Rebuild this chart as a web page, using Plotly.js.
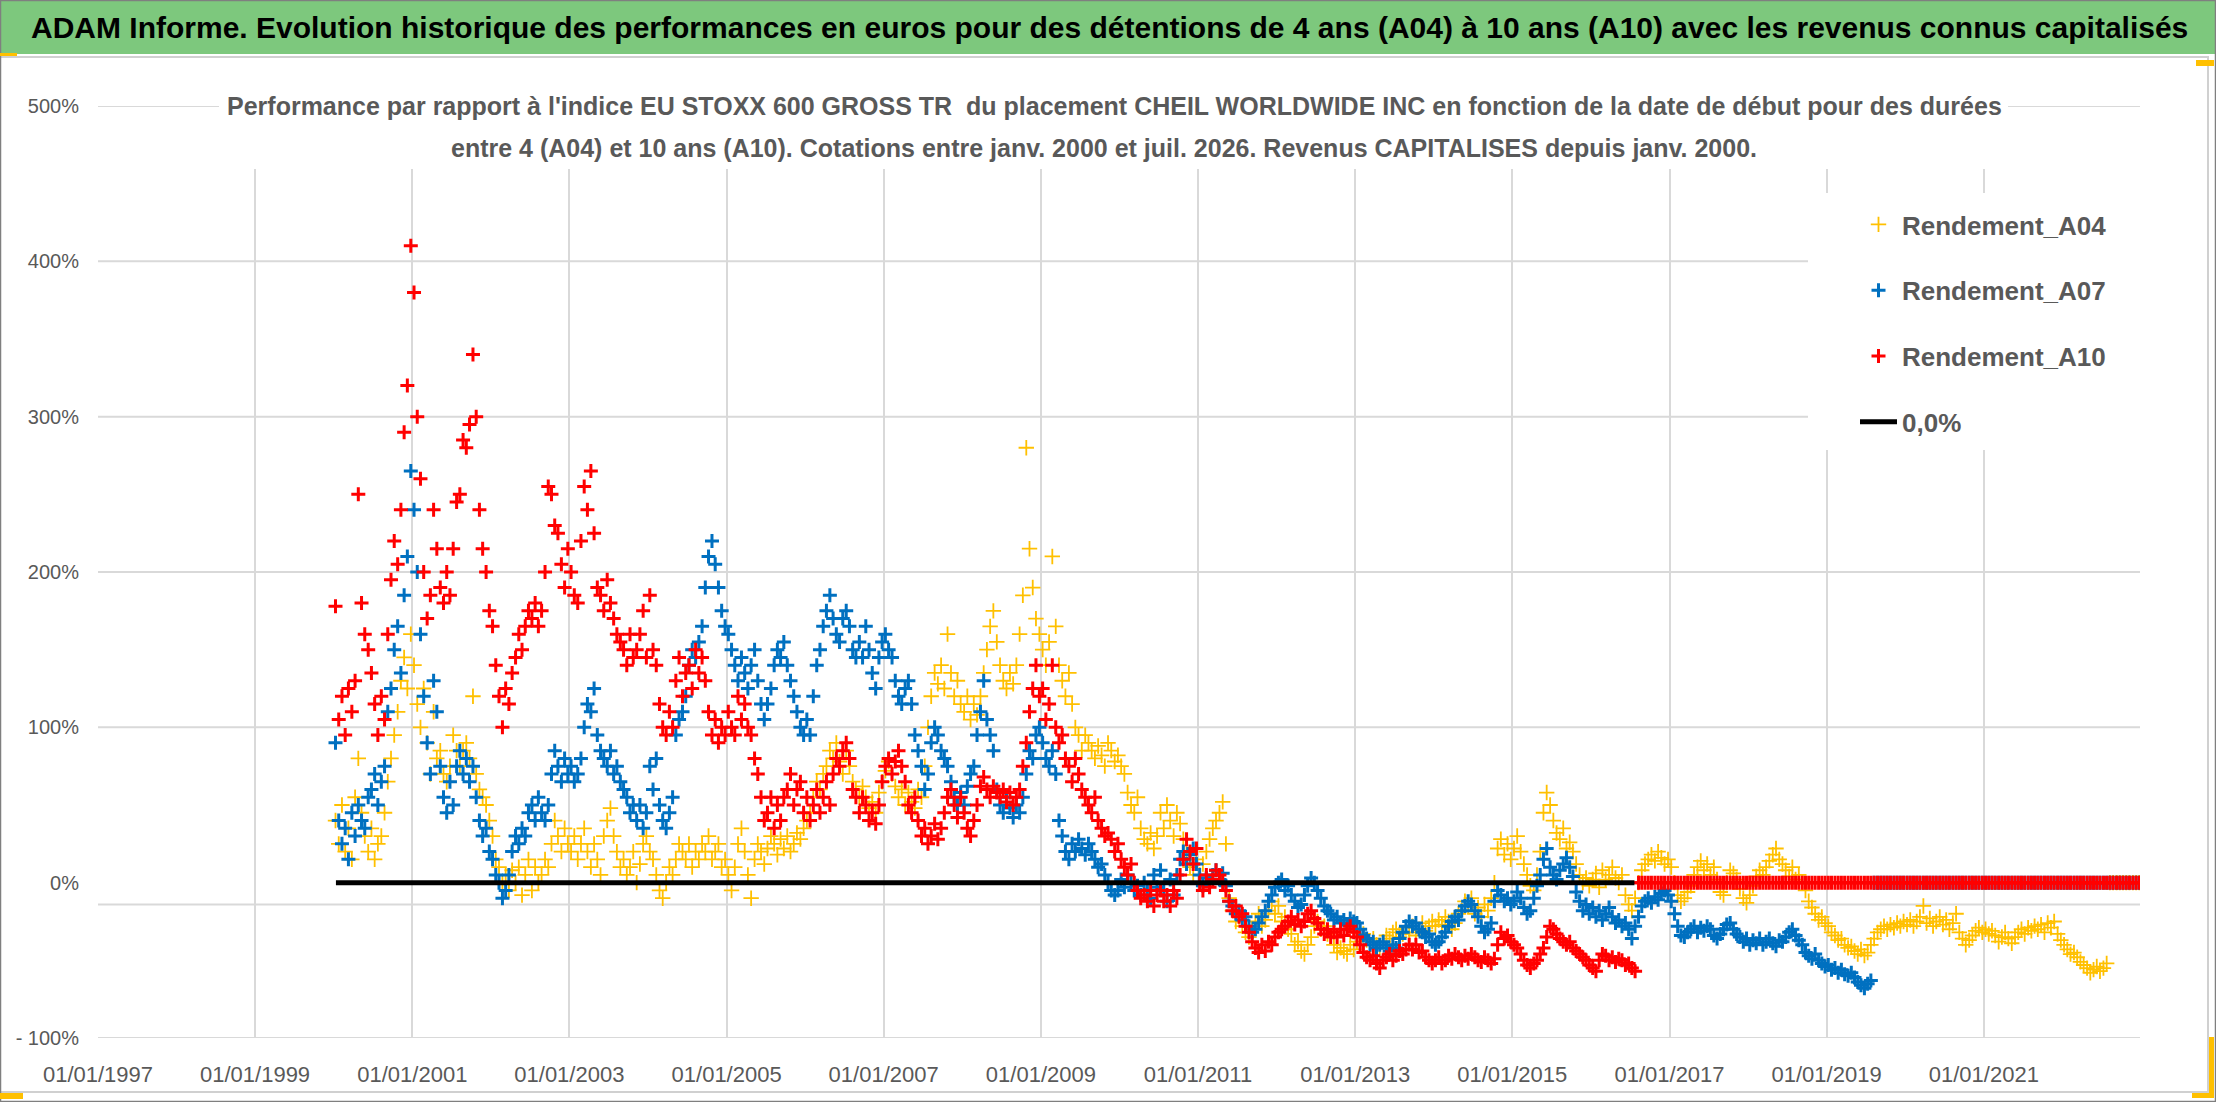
<!DOCTYPE html>
<html>
<head>
<meta charset="utf-8">
<script src="https://cdn.plot.ly/plotly-3.0.1.min.js"></script>
<style>
  html, body { margin: 0; padding: 0; background: #ffffff; }
  #chart { width: 2216px; height: 1102px; }
</style>
</head>
<body>
<div id="chart"></div>
<script>
// ---------------- DATA ----------------
// Start dates sampled every half month from mid-January 2000.
const seriesStartDate = '2000-01-10';
const stepDays = 15.2188;

const rendementA04 = [
  40,25,50,20,35,15,55,80,45,30,20,35,15,25,30,45,65,80,95,110,130,145,125,160,
  140,115,100,125,90,70,110,80,85,70,65,75,95,85,75,85,90,80,120,70,60,55,50,40,
  30,15,10,0,5,-5,8,0,10,-8,5,15,-5,10,0,5,15,10,25,40,30,20,35,25,
  20,30,15,25,35,20,10,25,15,5,30,40,48,30,20,10,15,5,10,20,0,12,25,30,
  20,15,5,-5,-10,0,10,5,15,25,20,15,25,10,20,15,25,20,30,15,20,25,10,15,
  5,-5,10,25,35,20,5,-10,15,25,20,12,22,30,25,18,28,22,30,20,25,32,28,35,
  40,45,55,65,60,70,75,85,80,90,78,70,85,75,65,60,55,62,55,48,52,45,58,65,
  72,78,70,62,55,60,50,58,52,48,60,55,75,100,120,135,128,140,125,160,135,120,130,115,
  110,120,105,115,108,120,135,150,165,175,155,140,130,125,135,128,140,160,185,280,215,190,170,160,
  150,140,155,210,165,140,130,120,135,115,100,95,85,95,90,85,80,88,82,75,90,85,78,82,
  75,70,58,50,45,55,35,28,25,32,22,30,45,35,50,40,30,45,38,28,20,10,5,15,
  5,12,20,28,35,40,45,52,25,-10,-18,-25,-22,-28,-32,-35,-30,-25,-20,-28,-24,-18,-12,-20,
  -15,-25,-22,-30,-33,-40,-38,-44,-46,-40,-35,-28,-25,-30,-28,-33,-35,-40,-45,-42,-44,-46,-40,-43,
  -38,-35,-33,-37,-40,-36,-40,-42,-38,-34,-36,-32,-30,-35,-33,-29,-32,-28,-34,-30,-26,-31,-28,-25,
  -28,-24,-27,-22,-25,-30,-26,-20,-18,-12,-15,-10,-20,-16,-22,-14,-18,-10,0,22,28,18,25,15,
  22,30,20,12,5,-2,-5,5,20,45,58,50,40,32,28,35,22,26,20,12,5,0,3,-2,
  2,6,-3,8,2,5,10,3,0,5,-8,-14,-18,-10,0,8,12,15,18,14,20,16,12,15,
  10,0,-8,-12,-10,-6,-2,5,10,14,8,12,5,10,2,-6,-8,0,8,6,2,-4,-10,-13,
  -8,-2,4,8,5,10,14,18,22,15,12,8,4,10,2,5,0,-5,-12,-16,-20,-24,-22,-26,
  -28,-32,-34,-37,-36,-40,-42,-41,-44,-46,-43,-47,-45,-40,-36,-32,-30,-28,-30,-27,-29,-26,-28,-25,
  -27,-24,-28,-25,-22,-15,-26,-23,-28,-25,-22,-27,-24,-30,-26,-20,-32,-36,-40,-37,-34,-31,-29,-32,
  -30,-33,-31,-34,-38,-35,-32,-36,-39,-35,-32,-30,-33,-29,-31,-28,-30,-27,-32,-26,-29,-25,-33,-37,
  -40,-43,-46,-45,-48,-51,-53,-55,-58,-56,-54,-57,-55,-52,0,0,0,0,0,0,0,0,0,0
];

const rendementA07 = [
  90,40,25,35,15,45,30,50,40,35,55,60,70,50,65,75,110,125,150,165,135,185,210,265,
  240,200,160,120,90,70,130,110,75,55,45,65,50,75,85,70,80,65,75,55,40,30,35,20,
  15,5,0,-10,-5,5,20,30,25,35,30,45,50,40,55,45,40,50,70,85,75,65,80,70,
  75,65,70,80,100,115,110,125,95,85,80,75,85,70,75,65,60,55,45,50,40,50,35,45,
  75,60,80,50,40,35,45,55,95,105,110,120,140,150,145,155,165,190,210,220,205,190,175,165,
  160,150,140,130,145,135,125,140,150,130,115,105,115,125,140,150,145,155,140,130,120,110,100,95,
  105,95,120,140,150,165,175,185,170,160,155,170,175,165,150,145,155,145,165,150,135,125,145,155,
  160,150,145,130,120,115,125,130,115,95,85,75,60,70,90,100,95,85,80,75,65,55,50,58,
  50,62,70,75,95,110,130,105,95,85,60,50,45,55,48,42,50,45,55,70,85,80,95,100,
  90,80,75,85,70,40,30,20,15,25,20,28,22,18,25,20,15,10,12,5,0,-5,-8,-5,
  2,-3,5,0,-5,-2,-8,0,-5,-10,5,-3,8,-5,-12,2,-8,5,15,20,12,18,22,12,
  5,-2,3,0,5,8,2,6,-2,-12,-15,-20,-18,-24,-22,-28,-32,-30,-26,-22,-18,-12,-8,-3,
  0,2,-5,-2,-8,-12,-16,-14,-8,-2,3,0,-5,-10,-15,-18,-20,-24,-22,-26,-24,-27,-23,-25,
  -26,-30,-34,-36,-40,-38,-42,-40,-38,-42,-44,-40,-42,-36,-32,-28,-25,-28,-26,-30,-32,-35,-33,-38,
  -40,-38,-35,-32,-28,-25,-22,-24,-18,-15,-12,-14,-18,-22,-28,-32,-30,-26,-12,-5,-8,-12,-10,-14,
  -12,-6,-10,-16,-20,-18,-10,-2,5,15,22,10,5,2,8,12,16,10,4,-6,-12,-18,-14,-20,
  -16,-22,-18,-24,-20,-16,-22,-26,-24,-28,-26,-30,-36,-28,-22,-15,-12,-10,-13,-9,-11,-7,-5,-8,
  -12,-20,-28,-34,-35,-32,-30,-28,-32,-29,-31,-28,-30,-34,-36,-33,-30,-27,-26,-30,-33,-35,-38,-36,
  -40,-37,-39,-36,-40,-38,-36,-39,-41,-37,-38,-35,-32,-30,-34,-37,-40,-45,-47,-49,-46,-50,-52,-54,
  -53,-56,-55,-58,-56,-59,-60,-58,-61,-64,-66,-68,-65,-63,0,0,0,0,0,0,0,0,0,0,
  0,0,0,0,0,0,0,0,0,0,0,0,0,0,0,0,0,0,0,0,0,0,0,0,
  0,0,0,0,0,0,0,0,0,0,0,0,0,0,0,0,0,0,0,0,0,0,0,0,
  0,0,0,0,0,0,0,0,0,0,0,0,0,0,0,0,0,0,0,0,0,0,0,0
];

const rendementA10 = [
  178,105,120,95,125,110,130,250,180,160,150,135,115,95,120,105,160,195,220,205,240,290,320,410,
  380,300,260,200,170,185,240,215,190,180,200,185,215,245,250,285,280,295,340,300,240,215,200,175,
  165,140,120,100,125,115,135,145,160,150,165,175,170,180,165,175,200,255,250,230,225,205,190,215,
  200,185,180,220,255,240,265,225,190,185,175,195,180,170,160,155,150,140,160,145,150,160,175,145,
  185,150,140,115,100,95,110,100,130,145,120,135,140,125,150,135,145,130,110,95,105,90,100,95,
  110,100,95,120,105,115,100,95,80,70,55,40,45,55,35,50,40,55,60,70,50,60,65,45,
  55,40,50,60,45,55,65,50,70,80,75,85,90,80,60,55,45,55,50,40,45,38,50,65,
  75,80,70,78,85,75,65,50,45,55,40,30,35,25,30,38,28,35,45,55,60,50,42,55,
  45,35,30,40,50,62,68,60,55,62,58,55,60,52,58,50,55,60,75,90,110,125,140,120,
  125,105,115,140,100,90,95,80,75,65,80,70,60,55,50,45,55,40,35,30,32,28,20,25,
  15,10,5,12,0,-5,-10,-8,-12,-5,-15,-8,-5,-12,-8,-15,-5,-10,5,15,28,20,12,22,
  0,-5,5,-3,2,8,5,0,-5,-12,-18,-15,-22,-20,-28,-32,-38,-42,-45,-40,-44,-38,-40,-35,
  -32,-30,-28,-25,-22,-27,-24,-28,-25,-20,-18,-23,-26,-30,-33,-30,-35,-32,-35,-30,-34,-30,-28,-32,
  -35,-40,-45,-48,-50,-47,-52,-55,-50,-48,-46,-50,-47,-44,-46,-43,-40,-43,-40,-45,-44,-48,-50,-52,
  -50,-48,-52,-50,-47,-49,-46,-48,-50,-47,-49,-46,-48,-50,-51,-48,-50,-52,-49,-40,-32,-36,-34,-38,
  -40,-42,-46,-50,-53,-55,-52,-50,-46,-42,-35,-28,-30,-33,-36,-38,-40,-38,-42,-44,-46,-48,-50,-53,
  -55,-57,-50,-46,-47,-50,-48,-51,-49,-50,-53,-52,-55,-57,0,0,0,0,0,0,0,0,0,0,
  0,0,0,0,0,0,0,0,0,0,0,0,0,0,0,0,0,0,0,0,0,0,0,0,
  0,0,0,0,0,0,0,0,0,0,0,0,0,0,0,0,0,0,0,0,0,0,0,0,
  0,0,0,0,0,0,0,0,0,0,0,0,0,0,0,0,0,0,0,0,0,0,0,0,
  0,0,0,0,0,0,0,0,0,0,0,0,0,0,0,0,0,0,0,0,0,0,0,0,
  0,0,0,0,0,0,0,0,0,0,0,0,0,0,0,0,0,0,0,0,0,0,0,0,
  0,0,0,0,0,0,0,0,0,0,0,0,0,0,0,0,0,0,0,0,0,0,0,0
];

const zeroLineDates = ['2000-01-12', '2016-07-22'];
const zeroLineValues = [0, 0];

const seriesNames = ['Rendement_A04', 'Rendement_A07', 'Rendement_A10', '0,0%'];

const xTickDates = ['1997-01-01','1999-01-01','2001-01-01','2003-01-01','2005-01-01','2007-01-01',
                    '2009-01-01','2011-01-01','2013-01-01','2015-01-01','2017-01-01','2019-01-01','2021-01-01'];
const xTickLabels = ['01/01/1997','01/01/1999','01/01/2001','01/01/2003','01/01/2005','01/01/2007',
                     '01/01/2009','01/01/2011','01/01/2013','01/01/2015','01/01/2017','01/01/2019','01/01/2021'];
const yTickValues = [-100, 0, 100, 200, 300, 400, 500];
const yTickLabels = ['- 100%', '0%', '100%', '200%', '300%', '400%', '500%'];
const yGridValues = [-100, -14, 100, 200, 300, 400, 500];

const titleText = 'ADAM Informe. Evolution historique des performances en euros pour des détentions de 4 ans (A04) à 10 ans (A10) avec les revenus connus capitalisés';
const subtitleLine1 = "Performance par rapport à l'indice EU STOXX 600 GROSS TR  du placement CHEIL WORLDWIDE INC en fonction de la date de début pour des durées";
const subtitleLine2 = 'entre 4 (A04) et 10 ans (A10). Cotations entre janv. 2000 et juil. 2026. Revenus CAPITALISES depuis janv. 2000.';

// ---------------- BUILD ----------------
function datesFor(n) {
  const t0 = Date.parse(seriesStartDate + 'T00:00:00Z');
  const out = [];
  for (let i = 0; i < n; i++) {
    out.push(new Date(t0 + i * stepDays * 86400000).toISOString().slice(0, 10));
  }
  return out;
}

const FONT = "'Liberation Sans', Arial, sans-serif";
const GRID = '#d9d9d9';
const W = 2216, H = 1102;
const PL = 98, PR = 2140, PT = 106, PB = 1038;
const px = X => (X - PL) / (PR - PL);
const py = Y => (PB - Y) / (PB - PT);

function markerTrace(name, values, color, size, lw, rank) {
  return {
    type: 'scatter', mode: 'markers', name: name,
    x: datesFor(values.length), y: values,
    legendgroup: name, legendrank: rank,
    marker: { symbol: 'cross-thin-open', size: size, color: color,
              line: { color: color, width: lw } },
    hoverinfo: 'skip'
  };
}

const traces = [
  markerTrace(seriesNames[0], rendementA04, '#FFC000', 11, 1.8, 1),
  markerTrace(seriesNames[1], rendementA07, '#0070C0', 10, 3, 2),
  markerTrace(seriesNames[2], rendementA10, '#FF0000', 10, 3, 3),
  {
    type: 'scatter', mode: 'lines', name: seriesNames[3],
    x: zeroLineDates, y: zeroLineValues,
    legendgroup: 'zero', legendrank: 4,
    line: { color: '#000000', width: 5 },
    hoverinfo: 'skip'
  }
];

const shapes = [];
// horizontal gridlines
yGridValues.forEach(v => shapes.push({
  type: 'line', xref: 'paper', yref: 'y', x0: 0, x1: 1, y0: v, y1: v,
  line: { color: GRID, width: 2 }, layer: 'below'
}));
// white box behind the subtitle
shapes.push({ type: 'rect', xref: 'paper', yref: 'paper',
  x0: px(219), x1: px(2008), y0: py(169), y1: py(80),
  fillcolor: '#ffffff', line: { width: 0 }, layer: 'above' });
// white legend box
shapes.push({ type: 'rect', xref: 'paper', yref: 'paper',
  x0: px(1808), x1: px(2141), y0: py(450), y1: py(193),
  fillcolor: '#ffffff', line: { width: 0 }, layer: 'above' });
// green banner
shapes.push({ type: 'rect', xref: 'paper', yref: 'paper',
  x0: px(0), x1: px(W), y0: py(54), y1: py(0),
  fillcolor: '#7dc87d', line: { width: 0 }, layer: 'above' });
// chart area outline
shapes.push({ type: 'line', xref: 'paper', yref: 'paper', x0: px(0), x1: px(2209), y0: py(57), y1: py(57),
  line: { color: '#d0d0d0', width: 2 }, layer: 'above' });
shapes.push({ type: 'line', xref: 'paper', yref: 'paper', x0: px(2208), x1: px(2208), y0: py(57), y1: py(1092),
  line: { color: '#d0d0d0', width: 2 }, layer: 'above' });
shapes.push({ type: 'line', xref: 'paper', yref: 'paper', x0: px(0), x1: px(2209), y0: py(1092), y1: py(1092),
  line: { color: '#d0d0d0', width: 2 }, layer: 'above' });
// outer frame
shapes.push({ type: 'rect', xref: 'paper', yref: 'paper', x0: px(0.5), x1: px(W - 0.5), y0: py(H - 0.5), y1: py(0.5),
  line: { color: '#7f7f7f', width: 1.5 }, fillcolor: 'rgba(0,0,0,0)', layer: 'above' });
// selection handles (yellow)
shapes.push({ type: 'rect', xref: 'paper', yref: 'paper', x0: px(0), x1: px(17), y0: py(56), y1: py(53),
  fillcolor: '#FFC000', line: { width: 0 }, layer: 'above' });
shapes.push({ type: 'rect', xref: 'paper', yref: 'paper', x0: px(0), x1: px(23), y0: py(1099), y1: py(1093),
  fillcolor: '#FFC000', line: { width: 0 }, layer: 'above' });
shapes.push({ type: 'rect', xref: 'paper', yref: 'paper', x0: px(2209), x1: px(2214), y0: py(1098), y1: py(1037),
  fillcolor: '#FFC000', line: { width: 0 }, layer: 'above' });
shapes.push({ type: 'rect', xref: 'paper', yref: 'paper', x0: px(2192), x1: px(2214), y0: py(1098), y1: py(1093),
  fillcolor: '#FFC000', line: { width: 0 }, layer: 'above' });
shapes.push({ type: 'rect', xref: 'paper', yref: 'paper', x0: px(2196), x1: px(2214), y0: py(66), y1: py(60),
  fillcolor: '#FFC000', line: { width: 0 }, layer: 'above' });

const annotations = [
  { text: '<b>' + titleText + '</b>', xref: 'paper', yref: 'paper', x: px(1109), y: py(28),
    xanchor: 'center', yanchor: 'middle', showarrow: false,
    font: { family: FONT, size: 30, color: '#000000' } },
  { text: '<b>' + subtitleLine1 + '</b>', xref: 'paper', yref: 'paper', x: px(1114), y: py(106),
    xanchor: 'center', yanchor: 'middle', showarrow: false,
    font: { family: FONT, size: 25, color: '#595959' } },
  { text: '<b>' + subtitleLine2 + '</b>', xref: 'paper', yref: 'paper', x: px(1104), y: py(148),
    xanchor: 'center', yanchor: 'middle', showarrow: false,
    font: { family: FONT, size: 25, color: '#595959' } }
];

const layout = {
  width: W, height: H,
  margin: { l: PL, r: W - PR, t: PT, b: H - PB, pad: 0 },
  paper_bgcolor: '#ffffff', plot_bgcolor: '#ffffff',
  showlegend: true,
  legend: {
    x: px(1855), y: py(201), xanchor: 'left', yanchor: 'top',
    bgcolor: 'rgba(0,0,0,0)', borderwidth: 0,
    traceorder: 'grouped', tracegroupgap: 29,
    font: { family: FONT, size: 26, color: '#595959', weight: 'bold' },
    itemwidth: 37
  },
  xaxis: {
    type: 'date', range: ['1997-01-01', '2022-12-28'],
    tickmode: 'array', tickvals: xTickDates, ticktext: xTickLabels,
    showgrid: true, gridcolor: GRID, gridwidth: 2,
    zeroline: false, showline: false,
    ticks: 'outside', ticklen: 17, tickcolor: 'rgba(0,0,0,0)',
    tickfont: { family: FONT, size: 22, color: '#595959' },
    fixedrange: true
  },
  yaxis: {
    range: [-100, 500],
    tickmode: 'array', tickvals: yTickValues, ticktext: yTickLabels,
    showgrid: false, zeroline: false, showline: false,
    ticks: 'outside', ticklen: 14, tickcolor: 'rgba(0,0,0,0)',
    tickfont: { family: FONT, size: 20, color: '#595959' },
    fixedrange: true
  },
  shapes: shapes,
  annotations: annotations
};

Plotly.newPlot('chart', traces, layout, { displayModeBar: false, staticPlot: true });
</script>
</body>
</html>
